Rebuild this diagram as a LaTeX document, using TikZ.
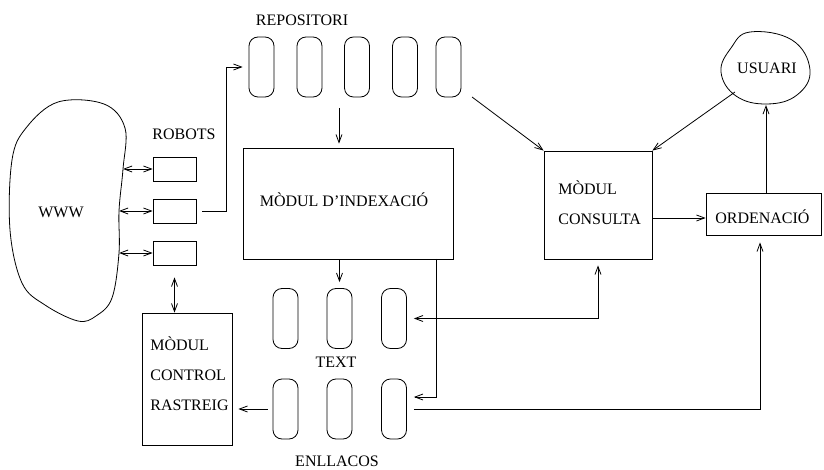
\documentclass[tikz,border=0pt]{standalone}
\usepackage{fontspec}
\setmainfont{Liberation Serif}
\usetikzlibrary{arrows.meta}

\begin{document}
\begin{tikzpicture}[
    x=1pt, y=-1pt,
    line width=0.8pt,
    >={Straight Barb[length=8pt,width=6pt]},
    every node/.style={font=\fontsize{16}{30}\selectfont},
    box/.style={draw, rectangle, inner sep=0pt},
    capsule/.style={draw, rectangle, rounded corners=9pt, minimum width=25pt, minimum height=60pt, inner sep=0pt}
]
    \useasboundingbox (0,0) rectangle (824,470);

    % --- WWW (cloud) ---
    \draw plot[smooth cycle, tension=0.6] coordinates {
        (58,102) (104,104) (125,128) (123,169) (119,211) (119,253)
        (112,298) (96,316) (78,321) (45,305) (22,283) (10,230) (12,160) (26,128)};
    \node (www) at (61,212) {WWW};

    % Points on the cloud edge
    \coordinate (w1) at (123,169);
    \coordinate (w2) at (119,211);
    \coordinate (w3) at (119,253);

    % --- ROBOTS ---
    \node (robots) at (184,134) {ROBOTS};
    \node[box, minimum width=43pt, minimum height=24pt] (robA) at (174.5,169) {};
    \node[box, minimum width=43pt, minimum height=24pt] (robB) at (174.5,211) {};
    \node[box, minimum width=43pt, minimum height=24pt] (robC) at (174.5,253) {};

    \draw[<->] (w1) -- (robA);
    \draw[<->] (w2) -- (robB);
    \draw[<->] (w3) -- (robC);

    % --- REPOSITORI ---
    \node (repositori) at (302,20) {REPOSITORI};
    \foreach \i/\x in {1/261.5, 2/309.5, 3/357, 4/405, 5/448.5}
        \node[capsule] (rep\i) at (\x,67) {};

    \coordinate (bendA) at (226,67);
    \draw[->, shorten <=6pt, shorten >=6pt] (robB.east) -| (bendA) -- (rep1.west);

    % --- MODUL D'INDEXACIO ---
    \node[box, minimum width=210pt, minimum height=111pt] (index) at (348,203.5) {};
    \node (indexl) at (344,200) {MÒDUL D’INDEXACIÓ};

    \coordinate (repout) at (339,108);
    \draw[->, shorten >=4pt] (repout) -- (repout |- index.north);

    % --- MODUL CONSULTA ---
    \node[box, minimum width=108pt, minimum height=108pt] (consulta) at (598,205) {};
    \node[anchor=west, align=left] (consultal) at ([xshift=11pt, yshift=2pt]consulta.west) {MÒDUL\\CONSULTA};

    \coordinate (repend) at (472,97);
    \draw[->] (repend) -- (consulta.north west);

    % --- ORDENACIO ---
    \node[box, minimum width=115pt, minimum height=42pt] (orden) at (763.5,214) {};
    \node[anchor=west] (ordenl) at ([xshift=6pt, yshift=-3pt]orden.west) {ORDENACIÓ};

    \coordinate (cons1) at (652,218);
    \draw[->] (cons1) -- (cons1 -| orden.west);

    % --- USUARI ---
    \draw plot[smooth cycle, tension=0.7] coordinates {
        (750,32) (792,40) (810,70) (797,95) (767,104) (736,96) (721,72) (731,48)};
    \node (usuari) at (767,68) {USUARI};

    \coordinate (usrA) at (735,92);
    \coordinate (usrB) at (766,105);
    \draw[->] (usrA) -- (consulta.north east);
    \draw[->] (orden.north -| usrB) -- (usrB);

    % --- TEXT i ENLLACOS ---
    \foreach \i/\x in {1/285.5, 2/339.5, 3/394} {
        \node[capsule] (txt\i) at (\x,318.5) {};
        \node[capsule] (enl\i) at (\x,409) {};
    }
    \node (textl) at (336,362) {TEXT};
    \node[anchor=base] (enllacos) at (337,466) {ENLLACOS};

    \draw[->, shorten >=6pt] (index.south -| txt2) -- (txt2.north);

    \coordinate (idxdown) at (436,259);
    \coordinate (idxbend) at (436,397);
    \draw[->, shorten >=7pt] (idxdown) -- (idxbend) -- (idxbend -| enl3.east);

    \draw[<->, shorten <=7pt, shorten >=6pt] (txt3.east) -| (consulta.south);
    \coordinate (ordbend) at (760,409);
    \draw[->, shorten <=7pt, shorten >=7pt] (enl3.east) -- (ordbend) -- (ordbend |- orden.south);

    % --- MODUL CONTROL RASTREIG ---
    \node[box, minimum width=90pt, minimum height=132pt] (control) at (187,379) {};
    \node[anchor=west, align=left] (controll) at ([xshift=5pt, yshift=5pt]control.west) {MÒDUL\\CONTROL\\RASTREIG};

    \draw[->, shorten <=5pt, shorten >=6pt] (enl1.west) -- (control.east |- enl1.west);
    \draw[<->, shorten <=12pt] (robC.south) -- (robC.south |- control.north);

\end{tikzpicture}
\end{document}
